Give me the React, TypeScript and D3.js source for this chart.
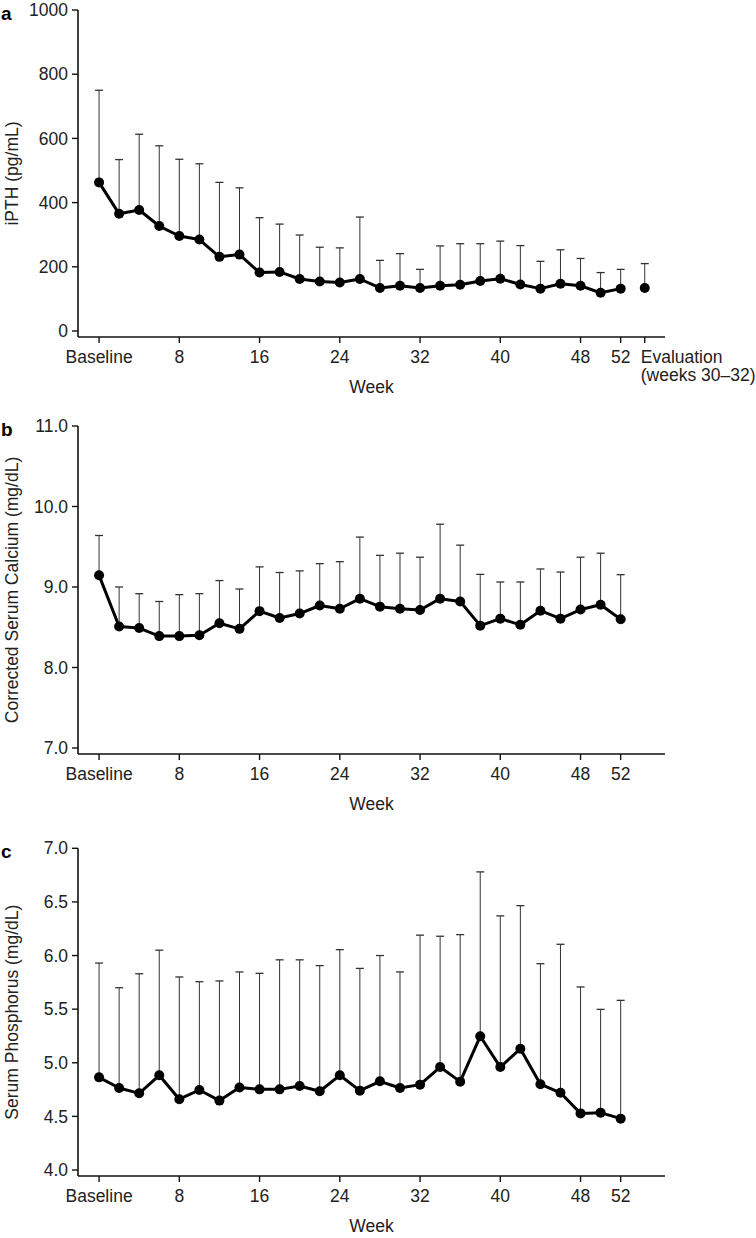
import React from "react";
import * as d3 from "d3";

const weeks = [0, 2, 4, 6, 8, 10, 12, 14, 16, 18, 20, 22, 24, 26, 28, 30, 32, 34, 36, 38, 40, 42, 44, 46, 48, 50, 52];

const pthMean = [463, 365, 377, 327, 296, 285, 231, 238, 182, 184, 162, 154, 151, 162, 134, 141, 134, 141, 144, 156, 163, 145, 132, 147, 141, 119, 132];
const pthUpper = [750, 534, 613, 577, 535, 521, 463, 446, 353, 333, 299, 261, 259, 355, 220, 241, 192, 265, 272, 272, 280, 266, 217, 253, 226, 182, 192];
const pthEvalMean = 134;
const pthEvalUpper = 210;
const EVAL_WEEK = 54.4;

const caMean = [9.145, 8.51, 8.49, 8.39, 8.39, 8.4, 8.55, 8.48, 8.7, 8.615, 8.67, 8.77, 8.73, 8.855, 8.756, 8.73, 8.714, 8.855, 8.82, 8.52, 8.607, 8.53, 8.706, 8.607, 8.72, 8.78, 8.6];
const caUpper = [9.64, 9.0, 8.917, 8.82, 8.905, 8.917, 9.08, 8.975, 9.25, 9.18, 9.2, 9.29, 9.315, 9.62, 9.393, 9.42, 9.37, 9.78, 9.52, 9.157, 9.062, 9.062, 9.224, 9.186, 9.37, 9.42, 9.153];

const phMean = [4.864, 4.765, 4.715, 4.883, 4.66, 4.746, 4.647, 4.77, 4.752, 4.752, 4.783, 4.734, 4.883, 4.74, 4.827, 4.765, 4.796, 4.96, 4.824, 5.247, 4.96, 5.13, 4.8, 4.72, 4.528, 4.535, 4.479];
const phUpper = [5.93, 5.7, 5.83, 6.05, 5.8, 5.756, 5.763, 5.847, 5.834, 5.96, 5.96, 5.906, 6.055, 5.88, 6.0, 5.847, 6.19, 6.18, 6.195, 6.78, 6.37, 6.465, 5.924, 6.105, 5.707, 5.498, 5.582];

const xTickWeeks = [0, 8, 16, 24, 32, 40, 48, 52];
const xTickLabels = ["Baseline", "8", "16", "24", "32", "40", "48", "52"];

const pthTicks = [0, 200, 400, 600, 800, 1000];
const caTicks = [7, 8, 9, 10, 11];
const phTicks = [4, 4.5, 5, 5.5, 6, 6.5, 7];

const FONT = "'Liberation Sans', Arial, Helvetica, sans-serif";
const FS = 17.5;
const X0 = 78;
const X1 = 665;

type PanelProps = {
  letter: string;
  yLabel: string;
  yDomain: [number, number];
  yTop: number;
  yBottom: number;
  yTicks: number[];
  yFmt: (v: number) => string;
  mean: number[];
  upper: number[];
  evalPoint?: { mean: number; upper: number };
};

function Panel(p: PanelProps) {
  const x = d3.scaleLinear().domain([-2.1, 56.42]).range([X0, X1]);
  const y = d3.scaleLinear().domain(p.yDomain).range([p.yBottom, p.yTop]);
  const axisY = p.yBottom + 6;
  const pts = weeks.map((w, i) => ({ w, m: p.mean[i], u: p.upper[i] }));
  const line = d3
    .line<{ w: number; m: number }>()
    .x((d) => x(d.w))
    .y((d) => y(d.m));
  const errs = [...pts];
  if (p.evalPoint) errs.push({ w: EVAL_WEEK, m: p.evalPoint.mean, u: p.evalPoint.upper });
  const tickW = p.evalPoint ? [...xTickWeeks, EVAL_WEEK] : xTickWeeks;
  const midY = (p.yTop + axisY) / 2;
  return (
    <g>
      <text x={1} y={p.yTop + 10} fontSize={19} fontWeight="bold" fontFamily={FONT}>
        {p.letter}
      </text>
      <text
        transform={`translate(18,${midY}) rotate(-90)`}
        textAnchor="middle"
        fontSize={FS}
        fontFamily={FONT}
        fill="#222"
      >
        {p.yLabel}
      </text>
      {errs.map((d, i) => (
        <g key={"e" + i} stroke="#333" strokeWidth={1}>
          <line x1={x(d.w)} x2={x(d.w)} y1={y(d.m)} y2={y(d.u)} />
          <line x1={x(d.w) - 4} x2={x(d.w) + 4} y1={y(d.u)} y2={y(d.u)} strokeWidth={1.3} />
        </g>
      ))}
      <path d={line(pts) || ""} fill="none" stroke="#000" strokeWidth={3} strokeLinejoin="round" />
      {errs.map((d, i) => (
        <circle key={"c" + i} cx={x(d.w)} cy={y(d.m)} r={5} fill="#000" />
      ))}
      <line x1={X0} x2={X0} y1={p.yTop} y2={axisY} stroke="#111" strokeWidth={1.6} />
      {p.yTicks.map((t) => (
        <g key={"yt" + t}>
          <line x1={X0 - 6} x2={X0} y1={y(t)} y2={y(t)} stroke="#111" strokeWidth={1.4} />
          <text
            x={X0 - 10}
            y={y(t)}
            dy="0.35em"
            textAnchor="end"
            fontSize={FS}
            fontFamily={FONT}
            fill="#222"
          >
            {p.yFmt(t)}
          </text>
        </g>
      ))}
      <line x1={X0} x2={X1} y1={axisY} y2={axisY} stroke="#111" strokeWidth={1.6} />
      {tickW.map((t) => (
        <line key={"xt" + t} x1={x(t)} x2={x(t)} y1={axisY} y2={axisY + 6} stroke="#111" strokeWidth={1.4} />
      ))}
      {xTickWeeks.map((t, i) => (
        <text
          key={"xl" + t}
          x={x(t)}
          y={axisY + 26}
          textAnchor="middle"
          fontSize={FS}
          fontFamily={FONT}
          fill="#222"
        >
          {xTickLabels[i]}
        </text>
      ))}
      {p.evalPoint && (
        <g>
          <text x={x(EVAL_WEEK) - 4} y={axisY + 26} fontSize={FS} fontFamily={FONT} fill="#222">
            Evaluation
          </text>
          <text x={x(EVAL_WEEK) - 4} y={axisY + 44} fontSize={FS} fontFamily={FONT} fill="#222">
            (weeks 30–32)
          </text>
        </g>
      )}
      <text
        x={(X0 + X1) / 2}
        y={axisY + 56}
        textAnchor="middle"
        fontSize={FS}
        fontFamily={FONT}
        fill="#222"
      >
        Week
      </text>
    </g>
  );
}

export default function App() {
  return (
    <svg
      width={756}
      height={1238}
      style={{ position: "absolute", left: 0, top: 0, background: "#fff", display: "block" }}
    >
      <rect width={756} height={1238} fill="#fff" />
      <Panel
        letter="a"
        yLabel="iPTH (pg/mL)"
        yDomain={[0, 1000]}
        yTop={10}
        yBottom={331}
        yTicks={pthTicks}
        yFmt={(v) => String(v)}
        mean={pthMean}
        upper={pthUpper}
        evalPoint={{ mean: pthEvalMean, upper: pthEvalUpper }}
      />
      <Panel
        letter="b"
        yLabel="Corrected Serum Calcium (mg/dL)"
        yDomain={[7, 11]}
        yTop={426}
        yBottom={748}
        yTicks={caTicks}
        yFmt={(v) => v.toFixed(1)}
        mean={caMean}
        upper={caUpper}
      />
      <Panel
        letter="c"
        yLabel="Serum Phosphorus (mg/dL)"
        yDomain={[4, 7]}
        yTop={848.3}
        yBottom={1170}
        yTicks={phTicks}
        yFmt={(v) => v.toFixed(1)}
        mean={phMean}
        upper={phUpper}
      />
    </svg>
  );
}
